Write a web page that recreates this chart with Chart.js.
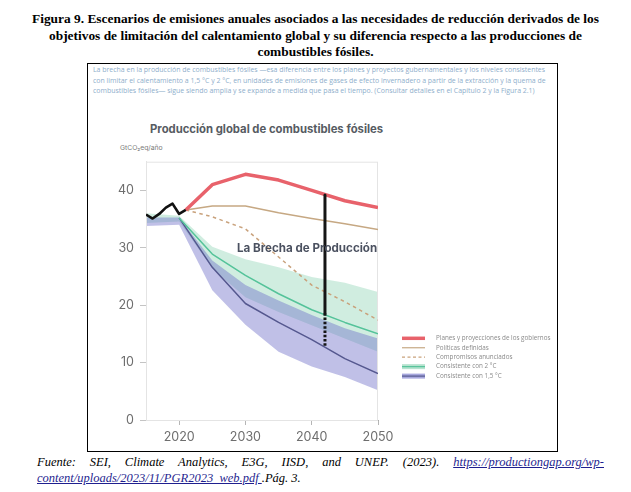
<!DOCTYPE html>
<html lang="es">
<head>
<meta charset="utf-8">
<script src="https://cdn.jsdelivr.net/npm/chart.js@4.4.0/dist/chart.umd.min.js"></script>
<style>
  body { margin:0; background:#fff; width:631px; height:492px; position:relative; overflow:hidden; }
  #caption { position:absolute; left:0; top:11px; width:631px; text-align:center; font:bold 13.4px "Liberation Serif", serif; line-height:16.5px; color:#000; }
  #box { position:absolute; left:87px; top:63px; width:471px; height:389px; border:1px solid #000; box-sizing:border-box; }
  #desc { position:absolute; left:5px; top:1px; width:460px; font:6.95px "Open Sans", sans-serif; line-height:10.5px; color:#8eaecb; white-space:nowrap; }
  #ctitle { position:absolute; left:62px; top:58px; font:bold 11.3px "Inter", sans-serif; color:#565b62; white-space:nowrap; }
  #unit { position:absolute; left:32px; top:79px; font:6.8px "Inter", sans-serif; color:#7a7a7a; }
  #wrap { position:absolute; left:0; top:36px; width:468px; height:350px; }
  #source { position:absolute; left:37px; top:454px; width:567px; font:italic 12.5px "Liberation Serif", serif; line-height:16px; color:#000; }
  #source div.l1 { text-align:justify; text-align-last:justify; }
  #source a { color:#1f1f8f; text-decoration:underline; }
</style>
</head>
<body>
<div id="caption">Figura 9. Escenarios de emisiones anuales asociados a las necesidades de reducción derivados de los<br>objetivos de limitación del calentamiento global y su diferencia respecto a las producciones de<br>combustibles fósiles.</div>
<div id="box">
  <div id="desc">La brecha en la producción de combustibles fósiles —esa diferencia entre los planes y proyectos gubernamentales y los niveles consistentes<br>con limitar el calentamiento a 1,5 °C y 2 °C, en unidades de emisiones de gases de efecto invernadero a partir de la extracción y la quema de<br>combustibles fósiles— sigue siendo amplia y se expande a medida que pasa el tiempo. (Consultar detalles en el Capítulo 2 y la Figura 2.1)</div>
  <div id="ctitle">Producción global de combustibles fósiles</div>
  <div id="unit">GtCO₂eq/año</div>
  <div id="wrap"><canvas id="chart"></canvas></div>
</div>
<div id="source">
  <div class="l1">Fuente: SEI, Climate Analytics, E3G, IISD, and UNEP. (2023). <a>https://productiongap.org/wp-</a></div>
  <div><a>content/uploads/2023/11/PGR2023_web.pdf </a>.Pág. 3.</div>
</div>
<script>
// Datos (GtCO2eq/año)
const histYears  = [2015, 2016, 2017, 2018, 2019, 2020, 2021];
const histValues = [35.8, 35.1, 35.9, 37.0, 37.7, 35.9, 36.6];

const projYears      = [2021, 2025, 2030, 2035, 2040, 2045, 2050];
const plansValues    = [36.6, 41.0, 42.8, 41.8, 40.0, 38.2, 37.0];
const policiesValues = [36.6, 37.3, 37.3, 36.1, 35.1, 34.2, 33.2];
const pledgesValues  = [36.6, 35.4, 33.3, 28.4, 23.5, 20.6, 17.4];

const pathYears   = [2020, 2025, 2030, 2035, 2040, 2045, 2050];
const c2Values    = [35.2, 28.9, 25.2, 22.0, 19.2, 17.0, 15.0];
const c15Values   = [35.2, 26.6, 20.3, 17.0, 14.0, 10.7, 8.1];

const bandYears   = [2015, 2020, 2025, 2030, 2035, 2040, 2045, 2050];
const c2Upper     = [36.0, 35.6, 30.2, 28.0, 26.6, 24.9, 23.9, 22.3];
const c2Lower     = [34.3, 34.6, 26.4, 21.4, 18.8, 16.5, 14.2, 11.9];
const c15Upper    = [35.3, 35.3, 27.8, 23.5, 20.8, 18.3, 16.0, 14.2];
const c15Lower    = [33.8, 34.0, 22.6, 16.6, 11.9, 9.3, 7.5, 5.2];

const gapYear   = 2042;
const gapTop    = 39.2;
const gapMid    = 18.6;
const gapBottom = 12.6;
const gapLabel  = 'La Brecha de Producción';
const gapLabelPos = [2039.3, 29.9];

const xTicks = [2020, 2030, 2040, 2050];
const yTicks = [0, 10, 20, 30, 40];

const legendLabels = [
  'Planes y proyecciones de los gobiernos',
  'Políticas definidas',
  'Compromisos anunciados',
  'Consistente con 2 °C',
  'Consistente con 1,5 °C'
];

const pts = (xs, ys) => xs.map((x, i) => ({ x: x, y: ys[i] }));

const RED = '#e8626b', TAN = '#c6a883', DASH = '#c9a27c';
const GREEN = '#55c39a', PURPLE = '#55588f';
const GREEN_FILL = 'rgba(110,200,160,0.32)', PURPLE_FILL = 'rgba(110,110,200,0.43)';

// marco gris claro del área de trazado
const framePlugin = {
  id: 'frame',
  beforeDatasetsDraw(chart) {
    const a = chart.chartArea, c = chart.ctx;
    c.save();
    c.strokeStyle = '#e4e4e4';
    c.lineWidth = 1;
    c.strokeRect(a.left + 0.5, a.top + 0.5, a.right - a.left - 1, a.bottom - a.top);
    c.restore();
  }
};

// texto "La Brecha de Producción" y leyenda
const extrasPlugin = {
  id: 'extras',
  afterDatasetsDraw(chart) {
    const c = chart.ctx, a = chart.chartArea;
    const xs = chart.scales.x, ys = chart.scales.y;
    c.save();
    c.font = 'bold 11.6px Inter, sans-serif';
    c.fillStyle = '#4b5160';
    c.textAlign = 'center';
    c.textBaseline = 'middle';
    c.fillText(gapLabel, xs.getPixelForValue(gapLabelPos[0]), ys.getPixelForValue(gapLabelPos[1]));

    // leyenda
    const x0 = a.right + 24, x1 = a.right + 47, tx = a.right + 58;
    const y0 = a.bottom - 81.7, dy = 9.45;
    c.font = '6.3px "Open Sans", sans-serif';
    c.textAlign = 'left';
    legendLabels.forEach((lab, i) => {
      const y = y0 + i * dy;
      c.setLineDash([]);
      if (i === 0) { c.strokeStyle = RED; c.lineWidth = 3.5; line(c, x0, x1, y); }
      if (i === 1) { c.strokeStyle = TAN; c.lineWidth = 1.2; line(c, x0, x1, y); }
      if (i === 2) { c.strokeStyle = DASH; c.lineWidth = 1.2; c.setLineDash([3, 2.5]); line(c, x0, x1, y); }
      if (i === 3) { c.fillStyle = 'rgba(110,200,160,0.5)'; c.fillRect(x0, y - 2.5, x1 - x0, 5); c.strokeStyle = GREEN; c.lineWidth = 1.2; line(c, x0, x1, y); }
      if (i === 4) { c.fillStyle = 'rgba(110,110,200,0.6)'; c.fillRect(x0, y - 2.5, x1 - x0, 5); c.strokeStyle = PURPLE; c.lineWidth = 1.2; line(c, x0, x1, y); }
      c.setLineDash([]);
      c.fillStyle = '#8a8a8a';
      c.fillText(lab, tx, y);
    });
    c.restore();
  }
};
function line(c, x0, x1, y) { c.beginPath(); c.moveTo(x0, y); c.lineTo(x1, y); c.stroke(); }

const ctx = document.getElementById('chart').getContext('2d');
new Chart(ctx, {
  type: 'line',
  data: {
    datasets: [
      // líneas (order bajo = dibujadas encima)
      { label: 'Histórico', data: pts(histYears, histValues), borderColor: '#111', borderWidth: 2.6, order: 1 },
      { label: 'Brecha', data: [{ x: gapYear, y: gapTop }, { x: gapYear, y: gapMid }], borderColor: '#151515', borderWidth: 3, order: 2 },
      { label: 'Brecha 1,5', data: [{ x: gapYear, y: gapMid }, { x: gapYear, y: gapBottom }], borderColor: '#151515', borderWidth: 3, borderDash: [2.5, 1.8], order: 2 },
      { label: legendLabels[0], data: pts(projYears, plansValues), borderColor: RED, borderWidth: 3.5, order: 3 },
      { label: legendLabels[1], data: pts(projYears, policiesValues), borderColor: TAN, borderWidth: 1.5, order: 4 },
      { label: legendLabels[2], data: pts(projYears, pledgesValues), borderColor: DASH, borderWidth: 1.5, borderDash: [3.5, 3.5], order: 5 },
      { label: legendLabels[3], data: pts(pathYears, c2Values), borderColor: GREEN, borderWidth: 1.5, order: 6 },
      { label: legendLabels[4], data: pts(pathYears, c15Values), borderColor: PURPLE, borderWidth: 1.5, order: 7 },
      // bandas: 1,5 °C encima de 2 °C
      { label: '1,5 sup', data: pts(bandYears, c15Upper), borderWidth: 0, borderColor: 'transparent', backgroundColor: PURPLE_FILL, fill: '+1', order: 8 },
      { label: '1,5 inf', data: pts(bandYears, c15Lower), borderWidth: 0, borderColor: 'transparent', fill: false, order: 9 },
      { label: '2 sup', data: pts(bandYears, c2Upper), borderWidth: 0, borderColor: 'transparent', backgroundColor: GREEN_FILL, fill: '+1', order: 10 },
      { label: '2 inf', data: pts(bandYears, c2Lower), borderWidth: 0, borderColor: 'transparent', fill: false, order: 11 }
    ]
  },
  options: {
    responsive: true,
    maintainAspectRatio: false,
    animation: false,
    layout: { padding: { left: 0, right: 178, top: 61.7, bottom: 0 } },
    elements: { point: { radius: 0 }, line: { tension: 0, borderCapStyle: 'butt', borderJoinStyle: 'round' } },
    plugins: {
      legend: { display: false },
      tooltip: { enabled: false },
      filler: { drawTime: 'beforeDatasetsDraw' }
    },
    scales: {
      x: {
        type: 'linear', min: 2015, max: 2050,
        afterBuildTicks: s => { s.ticks = xTicks.map(v => ({ value: v })); },
        afterFit: s => { s.height = 30; },
        grid: { drawOnChartArea: false, tickLength: 5, color: '#b5b5b5' },
        border: { color: '#a9a9a9', width: 1 },
        ticks: { color: '#6e6e6e', font: { family: 'Inter', size: 12.5 }, padding: 5, maxRotation: 0, callback: v => String(v) }
      },
      y: {
        min: 0, max: 45,
        afterBuildTicks: s => { s.ticks = yTicks.map(v => ({ value: v })); },
        afterFit: s => { s.width = 58; },
        grid: { drawOnChartArea: false, tickLength: 6, color: '#c4c4c4' },
        border: { color: '#e4e4e4', width: 1 },
        ticks: { color: '#6e6e6e', font: { family: 'Inter', size: 12.5 }, padding: 6 }
      }
    }
  },
  plugins: [framePlugin, extrasPlugin]
});
</script>
</body>
</html>
